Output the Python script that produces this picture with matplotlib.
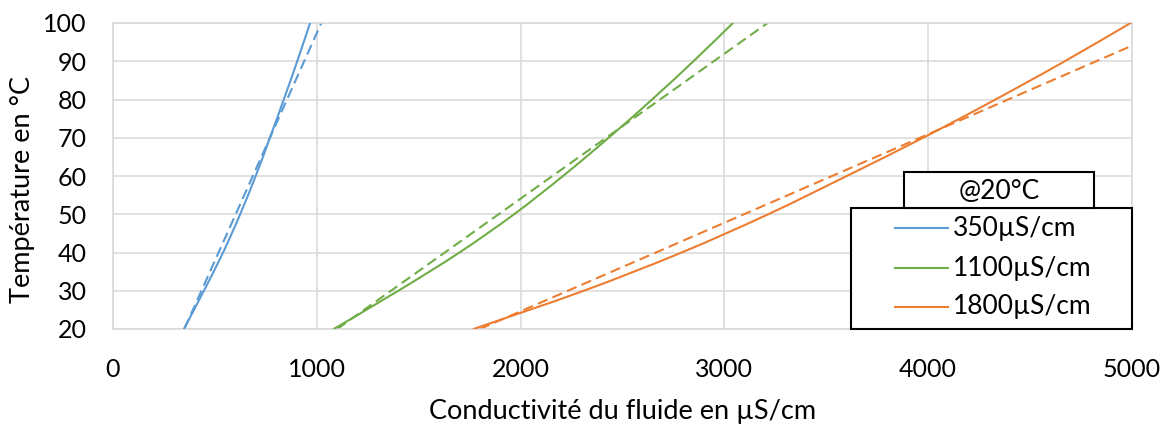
import matplotlib
matplotlib.use("Agg")
import numpy as np
import matplotlib.pyplot as plt
from matplotlib.patches import Rectangle, PathPatch
from matplotlib.path import Path

plt.rcParams["font.family"] = ["Lato", "DejaVu Sans"]

# Temperatures (°C) at which each conductivity is given
temperatures = [20, 30, 40, 50, 60, 70, 80, 90, 100]

# Real conductivity curves (solid), µS/cm
cond_350 = [348, 446, 540, 624, 700, 770, 838, 904, 967]
cond_1100 = [1083, 1400, 1700, 1968, 2208, 2432, 2645, 2848, 3042]
cond_1800 = [1769, 2310, 2790, 3215, 3600, 3975, 4330, 4670, 4993]

# Linear compensation curves (dashed), µS/cm
lin_350 = [350, 434, 518, 602, 686, 770, 854, 938, 1022]
lin_1100 = [1100, 1364, 1628, 1892, 2156, 2420, 2684, 2948, 3212]
lin_1800 = [1800, 2232, 2664, 3096, 3528, 3960, 4392, 4824, 5256]

series_labels = ["350µS/cm", "1100µS/cm", "1800µS/cm"]
legend_title = "@20°C"
colors = ["#5B9BD5", "#70AD47", "#ED7D31"]

x_ticks = [0, 1000, 2000, 3000, 4000, 5000]
y_ticks = [20, 30, 40, 50, 60, 70, 80, 90, 100]


def smooth_path(xs, ys):
    """Smoothed line through the points (cubic Bezier, Catmull-Rom style)."""
    p = np.column_stack([xs, ys]).astype(float)
    ext = np.vstack([p[0], p, p[-1]])
    verts = [p[0]]
    codes = [Path.MOVETO]
    for i in range(len(p) - 1):
        p0, p1, p2, p3 = ext[i], ext[i + 1], ext[i + 2], ext[i + 3]
        c1 = p1 + (p2 - p0) / 6.0
        c2 = p2 - (p3 - p1) / 6.0
        verts += [c1, c2, p2]
        codes += [Path.CURVE4] * 3
    return Path(verts, codes)


W, H = 1169, 430
fig = plt.figure(figsize=(W / 100, H / 100), dpi=100)
ax = fig.add_axes([113 / W, 1 - 329 / H, 1019 / W, 306 / H])

grid_color = "#D9D9D9"
for lin, col in zip([lin_350, lin_1100, lin_1800], colors):
    ax.plot(lin, temperatures, color=col, lw=1.5, dashes=(5, 2.6), zorder=2)
for cur, col in zip([cond_350, cond_1100, cond_1800], colors):
    ax.add_patch(PathPatch(smooth_path(cur, temperatures), fill=False,
                           edgecolor=col, lw=1.5, zorder=3,
                           capstyle="round", joinstyle="round"))

ax.set_xlim(0, 5000)
ax.set_ylim(20, 100)
ax.set_xticks(x_ticks)
ax.set_yticks(y_ticks)
ax.grid(True, color=grid_color, lw=1.1, zorder=0)
ax.set_axisbelow(True)
for sp in ax.spines.values():
    sp.set_color(grid_color)
    sp.set_linewidth(1.1)
ax.tick_params(length=0, labelsize=18, colors="black")
ax.tick_params(axis="y", pad=19)
ax.tick_params(axis="x", pad=21)

ax.set_xlabel("Conductivité du fluide en µS/cm", fontsize=19.5)
ax.set_ylabel("Température en °C", fontsize=19.5)
ax.xaxis.set_label_coords(0.5, -0.271)
ax.xaxis.label.set_va("center")
ax.yaxis.set_label_coords(-0.0893, 0.457)
ax.yaxis.label.set_va("center")

# Legend box with a separate title box on top
tr = ax.transAxes
ax.add_patch(Rectangle((0.7242, 0.0), 1.0 - 0.7242, 0.3954, transform=tr,
                       facecolor="white", edgecolor="black", lw=1.5,
                       clip_on=False, zorder=10))
ax.add_patch(Rectangle((0.7763, 0.3954), 0.9627 - 0.7763, 0.513 - 0.3954,
                       transform=tr, facecolor="white", edgecolor="black",
                       lw=1.5, clip_on=False, zorder=10))
ax.text(0.8695, 0.4487, legend_title, transform=tr, ha="center", va="center",
        fontsize=19, zorder=11)
row_y = [0.329, 0.198, 0.073]
for lab, col, yy in zip(series_labels, colors, row_y):
    ax.plot([0.7674, 0.8194], [yy, yy], transform=tr, color=col, lw=1.5,
            clip_on=False, zorder=11)
    ax.text(0.8243, yy, lab, transform=tr, ha="left", va="center",
            fontsize=19, zorder=11)

fig.savefig("out.png", dpi=100)
